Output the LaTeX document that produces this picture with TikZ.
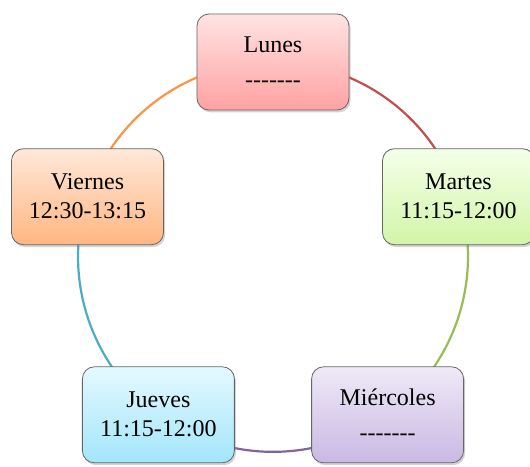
\documentclass[tikz,border=0pt]{standalone}
\usepackage{fontspec}
\setmainfont{Liberation Serif}
\usetikzlibrary{shadows,backgrounds}

\definecolor{lunTop}{HTML}{FFE3E3}
\definecolor{lunBot}{HTML}{FFA2A2}
\definecolor{marTop}{HTML}{F4FFE8}
\definecolor{marBot}{HTML}{D2F5A8}
\definecolor{mieTop}{HTML}{EFE9F7}
\definecolor{mieBot}{HTML}{C9B8E3}
\definecolor{jueTop}{HTML}{E4F9FF}
\definecolor{jueBot}{HTML}{A2E6FA}
\definecolor{vieTop}{HTML}{FFE8D9}
\definecolor{vieBot}{HTML}{FFB682}
\definecolor{lunArc}{HTML}{C0504D}
\definecolor{marArc}{HTML}{9BBB59}
\definecolor{mieArc}{HTML}{8064A2}
\definecolor{jueArc}{HTML}{4BACC6}
\definecolor{vieArc}{HTML}{F79646}

\newcommand{\nada}{\mbox{-}\mbox{-}\mbox{-}\mbox{-}\mbox{-}\mbox{-}\mbox{-}}

\begin{document}
\begin{tikzpicture}[x = 0.5pt, y = 0.5pt]
    \tikzstyle{day} = [draw = black!60, rounded corners = 6pt, minimum width = 76pt, minimum height = 48pt, align = center, font = \fontsize{12}{14.5}\selectfont, drop shadow = {shadow xshift = .8pt, shadow yshift = -1.2pt, opacity = .35}];
    \tikzstyle{ring} = [line width = 1.1pt];
    \tikzstyle{around} = [bend left = 36, looseness = .94];
    \useasboundingbox (-273,-209) rectangle (257,257);
    % days:
    \node[day, top color = lunTop, bottom color = lunBot] (lun) at (0,195) {Lunes\\[3pt]\nada};
    \node[day, top color = marTop, bottom color = marBot] (mar) at (185.5,60.3) {Martes\\11:15-12:00};
    \node[day, top color = mieTop, bottom color = mieBot] (mie) at (114.6,-157.8) {Miércoles\\[3pt]\nada};
    \node[day, top color = jueTop, bottom color = jueBot] (jue) at (-114.6,-157.8) {Jueves\\11:15-12:00};
    \node[day, top color = vieTop, bottom color = vieBot] (vie) at (-185.5,60.3) {Viernes\\12:30-13:15};
    % arcs:
    \begin{scope}[on background layer]
    \draw[ring, lunArc] (lun.center) to[around] (mar.center);
    \draw[ring, marArc] (mar.center) to[around] (mie.center);
    \draw[ring, mieArc] (mie.center) to[around] (jue.center);
    \draw[ring, jueArc] (jue.center) to[around] (vie.center);
    \draw[ring, vieArc] (vie.center) to[around] (lun.center);
    \end{scope}
\end{tikzpicture}
\end{document}
